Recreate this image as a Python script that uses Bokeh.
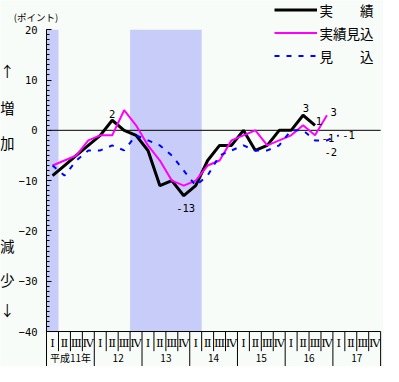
from bokeh.plotting import figure
from bokeh.models import (Range1d, LinearAxis, FixedTicker, Legend,
                          LegendItem, ColumnDataSource)
from bokeh.core.properties import value
from bokeh.embed import file_html
from bokeh.resources import INLINE

# ---------------- data ----------------
quarter_labels = ["Ⅰ", "Ⅱ", "Ⅲ", "Ⅳ"]
year_labels = ["平成11年", "12", "13", "14", "15", "16", "17"]
actual = [-9, -7, -5, -3, -1, 2, 0, -1, -4, -11, -10, -13, -11, -6, -3, -3,
          0, -4, -3, 0, 0, 3, 1]
estimate = [-7, -6, -5, -2, -1, -1, 4, 1, -3, -6, -10, -11, -10, -7, -6, -2,
            -1, 0, -3, -2, -1, 1, -1, 3]
forecast = [-7, -9, -6, -4, -4, -3, -4, -1, -2, -3, -5, -8, -11, -9, -5, -4,
            -3, -4, -4, -3, 0, 0, -2, -2, -1]
recession_start = [0, 7]     # first shaded quarter index
recession_end = [1, 13]      # quarter index after last shaded quarter
y_ticks = [20, 10, 0, -10, -20, -30, -40]
series_names = ["実　　績", "実績見込", "見　　込"]
side_texts = ["↑", "増", "加", "減", "少", "↓"]
unit_text = "(ポイント)"
# value labels: (series, quarter index, text)
value_labels = [("actual", 5, "2"), ("actual", 11, "-13"), ("actual", 21, "3"),
                ("actual", 22, "1"), ("estimate", 23, "3"),
                ("forecast", 23, "-1"), ("forecast", 23, "-2"),
                ("forecast", 24, "-1")]

# ---------------- styling / geometry ----------------
W, H = 383, 366
SX, SY = W / 399, H / 382
BG = "#f8fcf8"
SHADE = "#c8ccf8"
JP = "Noto Sans CJK JP"
MONO = "DejaVu Sans Mono"
QW = 348 / 28.0          # reference px per quarter
VU = 5.25                # reference px per value unit
Y0 = 135.5               # reference px of value 0
n_q = len(quarter_labels) * len(year_labels)

def vx(px):
    return (px - 48) / QW

def vy(py):
    return (Y0 - py) / VU

y_top, y_bot = 20, -40
p = figure(width=W, height=H, output_backend="svg", toolbar_location=None,
           x_range=Range1d(vx(0), vx(399)), y_range=Range1d(vy(382), vy(0)),
           x_axis_location=None, y_axis_location=None,
           min_border_left=0, min_border_right=0, min_border_top=0,
           min_border_bottom=0)
p.background_fill_color = BG
p.border_fill_color = BG
p.outline_line_color = None
p.xgrid.visible = False
p.ygrid.visible = False

# recession shading
p.quad(left=recession_start, right=recession_end, bottom=y_bot, top=y_top,
       fill_color=SHADE, line_color=None)

# zero line and bottom line
p.segment(x0=[0, 0], x1=[n_q, n_q], y0=[0, y_bot], y1=[0, y_bot],
          line_color="black", line_width=1)

# separators of the category rows
q_sep = [i for i in range(1, n_q) if i % 4 != 0]
y_sep = [i for i in range(4, n_q + 1, 4)]
p.segment(x0=q_sep, x1=q_sep, y0=y_bot, y1=vy(366), line_color="black",
          line_width=1)
p.segment(x0=y_sep, x1=y_sep, y0=y_bot, y1=vy(382), line_color="black",
          line_width=1)

qx = [i + 0.5 for i in range(n_q)]
p.text(x=qx, y=vy(357), text=quarter_labels * len(year_labels),
       text_font=value("DejaVu Serif"), text_font_size="11.5px",
       text_align="center", text_baseline="middle", text_color="black")
p.text(x=[4 * k + 2 for k in range(len(year_labels))], y=vy(373),
       text=year_labels, text_font=value(JP), text_font_size="10px",
       text_align="center", text_baseline="middle", text_color="black")

# series lines
r_act = p.line(qx[:len(actual)], actual, line_color="black", line_width=3)
r_est = p.line(qx[:len(estimate)], estimate, line_color="#ff00ff",
               line_width=2)
r_fc = p.line(qx[:len(forecast)], forecast, line_color="#0000ff",
              line_width=2, line_dash="5 7")

# value labels
series = {"actual": actual, "estimate": estimate, "forecast": forecast}
offsets = [(0, -7), (2, 13), (3, -8), (4, -5), (7, -3), (1, -3), (4, 12),
           (10, 0)]
lab_src = ColumnDataSource(dict(
    x=[qx[i] for _, i, _ in value_labels],
    y=[series[s][i] for s, i, _ in value_labels],
    t=[t for _, _, t in value_labels],
    dx=[o[0] * SX for o in offsets],
    dy=[o[1] * SY for o in offsets]))
p.text(x="x", y="y", text="t", x_offset="dx", y_offset="dy", source=lab_src,
       text_font=value(MONO), text_font_size="10.5px", text_align="center",
       text_baseline="middle", text_color="black")

# side texts (inside the frame, left of the axis)
side_y = [73, 112, 148, 256, 291, 322]
p.text(x=[vx(7)] * len(side_texts), y=[vy(v) for v in side_y],
       text=side_texts, text_font=value(JP), text_font_size="14.5px",
       text_align="center", text_baseline="middle", text_color="black")
p.text(x=[vx(37)], y=[vy(17)], text=[unit_text], text_font=value(JP),
       text_font_size="9.5px", text_align="center", text_baseline="middle",
       text_color="black")

# y axis drawn at x = 0 of the data
yaxis = LinearAxis(ticker=FixedTicker(ticks=y_ticks,
                                      minor_ticks=list(range(-40, 21))),
                   bounds=(vy(382), y_top), fixed_location=0)
yaxis.axis_line_color = "black"
yaxis.major_tick_in = 5
yaxis.major_tick_out = 0
yaxis.minor_tick_in = 3
yaxis.minor_tick_out = 0
yaxis.major_label_standoff = 9
yaxis.major_label_text_font = MONO
yaxis.major_label_text_font_size = "10.5px"
yaxis.major_label_text_color = "black"
p.add_layout(yaxis, "left")

# legend
legend = Legend(items=[LegendItem(label=series_names[0], renderers=[r_act]),
                       LegendItem(label=series_names[1], renderers=[r_est]),
                       LegendItem(label=series_names[2], renderers=[r_fc])],
                location=(273.6, 299), orientation="vertical",
                glyph_width=43, glyph_height=23, label_height=23,
                label_standoff=3, spacing=0, padding=0, margin=0,
                border_line_color=None, background_fill_alpha=0,
                label_text_font=JP, label_text_font_size="13.5px",
                label_text_color="black")
p.add_layout(legend)

open("out.html", "w").write(file_html(p, INLINE))
